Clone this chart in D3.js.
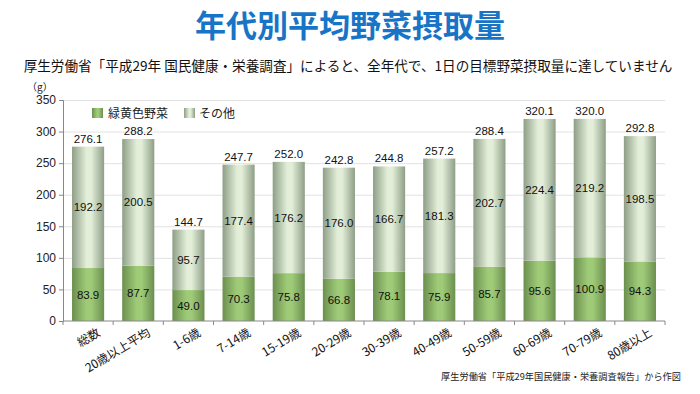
<!DOCTYPE html>
<html><head><meta charset="utf-8">
<script src="https://cdn.jsdelivr.net/npm/d3@7"></script>
<style>body{margin:0;background:#fff;} svg{display:block;font-family:"Noto Sans CJK JP","Noto Sans",sans-serif;}</style>
</head><body>
<svg id="c" width="700" height="394"></svg>
<script>
const categories = ["総数","20歳以上平均","1-6歳","7-14歳","15-19歳","20-29歳","30-39歳","40-49歳","50-59歳","60-69歳","70-79歳","80歳以上"];
const greenYellow = [83.9,87.7,49.0,70.3,75.8,66.8,78.1,75.9,85.7,95.6,100.9,94.3];
const others = [192.2,200.5,95.7,177.4,176.2,176.0,166.7,181.3,202.7,224.4,219.2,198.5];
const totals = [276.1,288.2,144.7,247.7,252.0,242.8,244.8,257.2,288.4,320.1,320.0,292.8];
const yTicks = [0,50,100,150,200,250,300,350];
const seriesNames = ["緑黄色野菜","その他"];

(function(){
const svg = d3.select("#c");
const defs = svg.append("defs");
function grad(id, edge, center){
  const g = defs.append("linearGradient").attr("id",id).attr("x1","0%").attr("x2","100%").attr("y1","0%").attr("y2","0%");
  g.append("stop").attr("offset","0%").attr("stop-color",edge);
  g.append("stop").attr("offset","45%").attr("stop-color",center);
  g.append("stop").attr("offset","60%").attr("stop-color",center);
  g.append("stop").attr("offset","100%").attr("stop-color",edge);
}
grad("gG","#6b8f4f","#9fcb78");
grad("gO","#8e9e86","#e2eed8");

const mL=63, mR=665, mT=100, mB=321;
const x = d3.scaleBand().domain(categories).range([mL,mR]).paddingInner(0.36).paddingOuter(0.18);
const y = d3.scaleLinear().domain([0,350]).range([mB,mT]);

svg.append("text").attr("x",350).attr("y",37).attr("text-anchor","middle")
  .attr("font-size",31).attr("font-weight","bold").attr("fill","#1874c6").text("年代別平均野菜摂取量");
svg.append("text").attr("x",348).attr("y",71).attr("text-anchor","middle")
  .attr("font-size",13.6).attr("fill","#111").text("厚生労働省「平成29年 国民健康・栄養調査」によると、全年代で、1日の目標野菜摂取量に達していません");
svg.append("text").attr("x",27).attr("y",91).attr("font-size",10).attr("fill","#222").text("（g）");

svg.append("g").selectAll("line").data(yTicks.filter(d=>d>0)).join("line")
  .attr("x1",mL).attr("x2",mR).attr("y1",d=>y(d)+0.5).attr("y2",d=>y(d)+0.5)
  .attr("stroke","#e2e2e2").attr("stroke-width",1);

const ya = svg.append("g").attr("transform",`translate(${mL},0)`)
  .call(d3.axisLeft(y).tickValues(yTicks).tickSize(4).tickFormat(d3.format("d")));
ya.select(".domain").attr("stroke","#888");
ya.selectAll(".tick line").attr("stroke","#888");
ya.selectAll("text").attr("font-size",12).attr("fill","#222").attr("font-family","Liberation Sans, Arial, sans-serif");

const gBars = svg.append("g");
categories.forEach((c,i)=>{
  const g0 = greenYellow[i], o = others[i];
  gBars.append("rect").attr("x",x(c)).attr("width",x.bandwidth())
    .attr("y",y(g0)).attr("height",y(0)-y(g0)).attr("fill","url(#gG)");
  gBars.append("rect").attr("x",x(c)).attr("width",x.bandwidth())
    .attr("y",y(g0+o)).attr("height",y(g0)-y(g0+o)).attr("fill","url(#gO)");
});
const lbl = svg.append("g").attr("font-size",11.5).attr("fill","#111").attr("text-anchor","middle")
  .attr("font-family","Liberation Sans, Arial, sans-serif");
categories.forEach((c,i)=>{
  const cx = x(c)+x.bandwidth()/2;
  const g0 = greenYellow[i], o = others[i];
  lbl.append("text").attr("x",cx).attr("y",(y(0)+y(g0))/2+4).text(g0.toFixed(1));
  lbl.append("text").attr("x",cx).attr("y",(y(g0)+y(g0+o))/2+4).text(o.toFixed(1));
  lbl.append("text").attr("x",cx).attr("y",y(g0+o)-4).text(totals[i].toFixed(1));
});

const xa = svg.append("g").attr("transform",`translate(0,${mB})`);
xa.append("line").attr("x1",mL).attr("x2",mR).attr("stroke","#888");
for(let k=0;k<=categories.length;k++){
  const tx = mL + (mR-mL)/categories.length*k;
  xa.append("line").attr("x1",tx).attr("x2",tx).attr("y1",0).attr("y2",4).attr("stroke","#888");
}
categories.forEach(c=>{
  const cx = x(c)+x.bandwidth()/2;
  xa.append("text").attr("transform",`translate(${cx+13},${14}) rotate(-31)`)
    .attr("text-anchor","end").attr("font-size",12).attr("fill","#111").text(c);
});

const lg = svg.append("g").attr("font-size",12).attr("fill","#222");
lg.append("rect").attr("x",92).attr("y",108).attr("width",11).attr("height",10).attr("fill","url(#gG)");
lg.append("text").attr("x",108).attr("y",117.5).text(seriesNames[0]);
lg.append("rect").attr("x",184).attr("y",108).attr("width",11).attr("height",10).attr("fill","url(#gO)");
lg.append("text").attr("x",199).attr("y",117.5).text(seriesNames[1]);

svg.append("text").attr("x",681).attr("y",380).attr("text-anchor","end").attr("font-size",9.2).attr("fill","#222")
  .text("厚生労働省「平成29年国民健康・栄養調査報告」から作図");
})();
</script>
</body></html>
